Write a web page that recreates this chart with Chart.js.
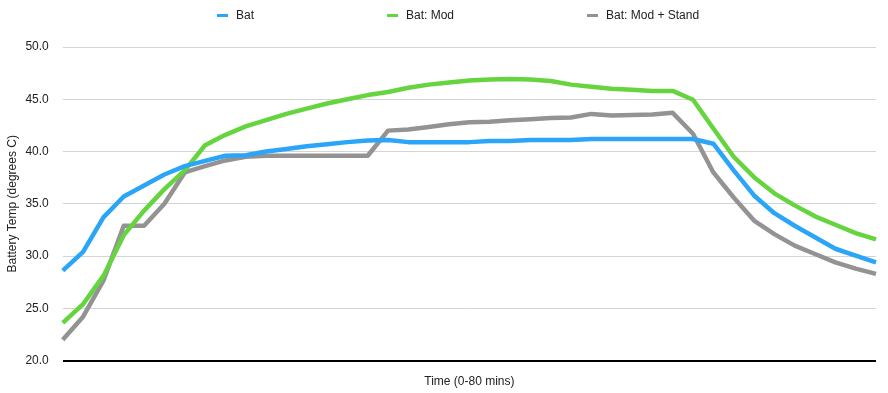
<!DOCTYPE html>
<html lang="en">
<head>
  <meta charset="UTF-8" />
  <title>Battery Temp</title>
  <script src="https://cdn.jsdelivr.net/npm/chart.js"></script>
  <style>
    html, body { margin: 0; padding: 0; background: #fff; }
    .wrap { position: relative; width: 888px; height: 393px; }
    .legend {
      position: absolute; left: 217px; top: 8px;
      display: flex; align-items: center;
      font: 12px "Liberation Sans", Arial, Helvetica, sans-serif; color: #222;
    }
    .legend .item { display: flex; align-items: center; margin-right: 133px; white-space: nowrap; }
    .legend .swatch { width: 11px; height: 3px; margin-right: 8px; }
  </style>
</head>
<body>
  <div class="wrap">
    <div class="legend" id="legend"></div>
    <canvas id="tempChart"></canvas>
  </div>

  <script>
    // time in minutes (every 2 mins)
    const minutes = [0, 2, 4, 6, 8, 10, 12, 14, 16, 18, 20, 22, 24, 26, 28, 30, 32, 34, 36, 38, 40,
      42, 44, 46, 48, 50, 52, 54, 56, 58, 60, 62, 64, 66, 68, 70, 72, 74, 76, 78, 80];

    const bat = [28.6, 30.4, 33.7, 35.7, 36.75, 37.8, 38.6, 39.1, 39.6, 39.65, 40.0, 40.25, 40.5, 40.7,
      40.9, 41.05, 41.1, 40.9, 40.9, 40.9, 40.9, 41.0, 41.0, 41.1, 41.1, 41.1, 41.2, 41.2, 41.2, 41.2,
      41.2, 41.2, 40.75, 38.2, 35.8, 34.1, 32.9, 31.8, 30.7, 30.05, 29.4];

    const batMod = [23.6, 25.4, 28.1, 32.0, 34.35, 36.4, 38.2, 40.6, 41.6, 42.4, 43.0, 43.6, 44.1, 44.6,
      45.0, 45.4, 45.7, 46.1, 46.4, 46.6, 46.8, 46.9, 46.95, 46.9, 46.75, 46.4, 46.2, 46.0, 45.9, 45.8,
      45.8, 44.95, 42.2, 39.5, 37.55, 36.0, 34.85, 33.8, 33.0, 32.2, 31.6];

    const batModStand = [22.0, 24.2, 27.65, 32.9, 32.9, 35.0, 38.0, 38.6, 39.15, 39.5, 39.6, 39.6, 39.6,
      39.6, 39.6, 39.6, 42.0, 42.1, 42.35, 42.6, 42.8, 42.85, 43.0, 43.1, 43.2, 43.25, 43.6, 43.45, 43.5,
      43.55, 43.7, 41.7, 38.0, 35.6, 33.4, 32.1, 31.0, 30.2, 29.4, 28.8, 28.3];

    const FONT = '"Liberation Sans", Arial, Helvetica, sans-serif';

    function series(label, data, color) {
      return {
        label: label,
        data: data,
        borderColor: color,
        backgroundColor: color,
        borderWidth: 4.5,
        pointRadius: 0,
        tension: 0,
        borderJoinStyle: 'round'
      };
    }

    const chart = new Chart(document.getElementById('tempChart'), {
      type: 'line',
      data: {
        labels: minutes,
        datasets: [
          series('Bat', bat, '#2aa5f7'),
          series('Bat: Mod', batMod, '#66d43f'),
          series('Bat: Mod + Stand', batModStand, '#939393')
        ]
      },
      options: {
        responsive: true,
        maintainAspectRatio: false,
        animation: false,
        layout: { padding: { left: 5, right: 12, top: 47, bottom: 4 } },
        plugins: {
          tooltip: { enabled: false },
          legend: { display: false }
        },
        scales: {
          x: {
            grid: { display: false },
            border: { display: false },
            ticks: { display: false },
            title: {
              display: true,
              text: 'Time (0-80 mins)',
              color: '#222',
              font: { family: FONT, size: 12 },
              padding: { top: 6, bottom: 0 }
            }
          },
          y: {
            min: 20,
            max: 50,
            border: { display: false },
            grid: {
              drawTicks: false,
              color: ctx => ctx.tick && ctx.tick.value === 20 ? '#000' : '#d4d4d4',
              lineWidth: ctx => ctx.tick && ctx.tick.value === 20 ? 2 : 1
            },
            ticks: {
              stepSize: 5,
              padding: 14,
              color: '#222',
              font: { family: FONT, size: 12 },
              callback: v => Number(v).toFixed(1)
            },
            title: {
              display: true,
              text: 'Battery Temp (degrees C)',
              color: '#222',
              font: { family: FONT, size: 12 },
              padding: { top: 0, bottom: -8 }
            }
          }
        }
      }
    });

    // simple html legend, short coloured bars like the original
    const legend = document.getElementById('legend');
    chart.data.datasets.forEach(ds => {
      const item = document.createElement('div');
      item.className = 'item';
      item.innerHTML = '<span class="swatch" style="background:' + ds.borderColor + '"></span>' + ds.label;
      legend.appendChild(item);
    });
  </script>
</body>
</html>
